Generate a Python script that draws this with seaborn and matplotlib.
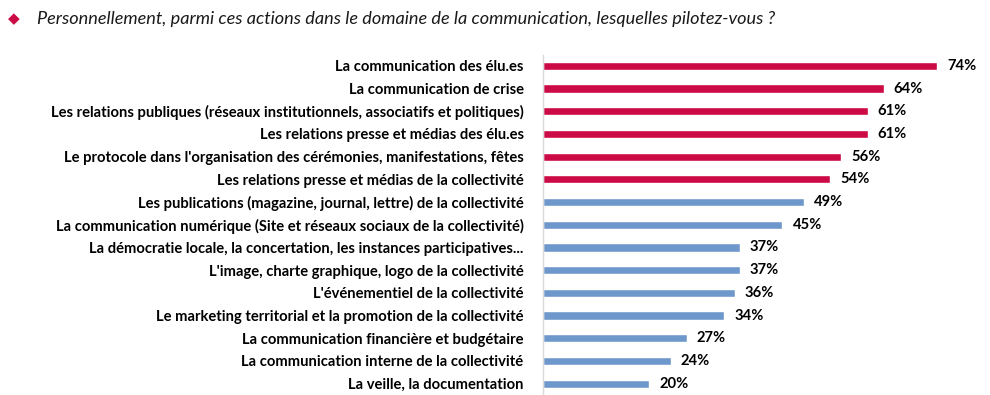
import matplotlib
matplotlib.use("Agg")
import matplotlib.pyplot as plt
import seaborn as sns
import pandas as pd

actions = [
    "La communication des élu.es",
    "La communication de crise",
    "Les relations publiques (réseaux institutionnels, associatifs et politiques)",
    "Les relations presse et médias des élu.es",
    "Le protocole dans l'organisation des cérémonies, manifestations, fêtes",
    "Les relations presse et médias de la collectivité",
    "Les publications (magazine, journal, lettre) de la collectivité",
    "La communication numérique (Site et réseaux sociaux de la collectivité)",
    "La démocratie locale, la concertation, les instances participatives...",
    "L'image, charte graphique, logo de la collectivité",
    "L'événementiel de la collectivité",
    "Le marketing territorial et la promotion de la collectivité",
    "La communication financière et budgétaire",
    "La communication interne de la collectivité",
    "La veille, la documentation",
]
pourcentages = [74, 64, 61, 61, 56, 54, 49, 45, 37, 37, 36, 34, 27, 24, 20]
groupe = ["top"] * 6 + ["autre"] * 9

ROUGE = "#CC0A45"
BLEU = "#6E98CC"

df = pd.DataFrame({"action": actions, "pct": pourcentages, "groupe": groupe})

sns.set_style("white")
plt.rcParams["font.family"] = ["Lato", "DejaVu Sans"]

fig = plt.figure(figsize=(9.9, 3.95), dpi=100)
ax = fig.add_axes([0.5485, 0.0, 0.43, 0.862])

sns.barplot(data=df, x="pct", y="action", hue="groupe",
            palette={"top": ROUGE, "autre": BLEU}, dodge=False,
            width=0.36, legend=False, ax=ax, saturation=1)

ax.set_xlim(0, 80)
ax.set_ylim(14.5, -0.5)
ax.set_xlabel("")
ax.set_ylabel("")
ax.set_xticks([])
for s in ["top", "right", "bottom"]:
    ax.spines[s].set_visible(False)
ax.spines["left"].set_color("#D9D9D9")
ax.spines["left"].set_linewidth(1)
ax.tick_params(axis="y", length=0, pad=14)
for lab in ax.get_yticklabels():
    lab.set_fontweight("bold")
    lab.set_fontsize(10.6)
    lab.set_color("black")

for i, v in enumerate(pourcentages):
    ax.text(v + 1.9, i, f"{v}%", va="center", ha="left",
            fontsize=10.6, fontweight="bold", color="black")

fig.text(0.008, 0.952, "\u25C6", color=ROUGE, fontsize=11, va="center")
fig.text(0.037, 0.952, "Personnellement, parmi ces actions dans le domaine de la communication, lesquelles pilotez-vous ?",
         fontsize=13.1, style="italic", va="center", color="#1a1a1a")

fig.savefig("out.png", dpi=100)
